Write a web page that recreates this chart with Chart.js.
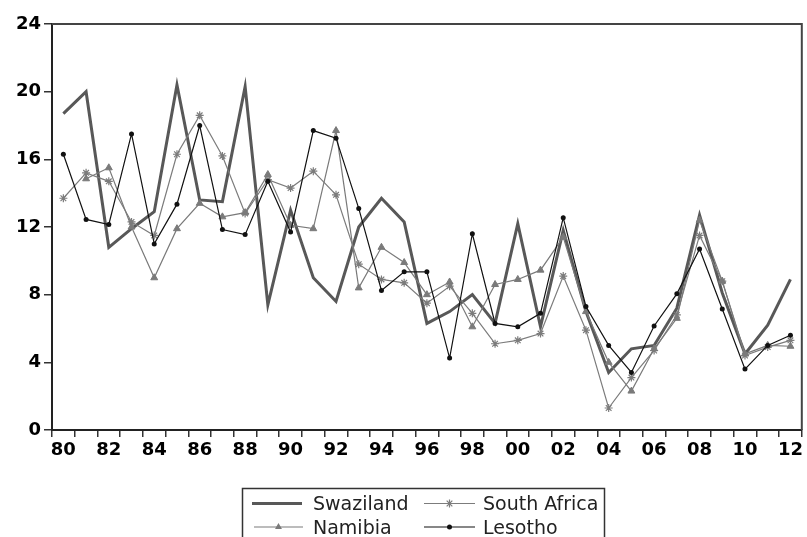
<!DOCTYPE html>
<html>
<head>
<meta charset="utf-8">
<script src="https://cdn.jsdelivr.net/npm/chart.js@4/dist/chart.umd.min.js"></script>
<style>
  html, body { margin: 0; padding: 0; background: #fff; }
  canvas { display: block; }
</style>
</head>
<body>
<canvas id="c" width="807" height="537"></canvas>
<script>
// ---- data ----
const years = ['1980','1981','1982','1983','1984','1985','1986','1987','1988','1989',
  '1990','1991','1992','1993','1994','1995','1996','1997','1998','1999',
  '2000','2001','2002','2003','2004','2005','2006','2007','2008','2009',
  '2010','2011','2012'];
const xTickLabels = ['80','','82','','84','','86','','88','','90','','92','','94','','96','','98','',
  '00','','02','','04','','06','','08','','10','','12'];
const yTicks = [0, 4, 8, 12, 16, 20, 24];

const swaziland = [18.7, 20.0, 10.8, 11.9, 12.9, 20.4, 13.6, 13.5, 20.3, 7.4,
  13.0, 9.0, 7.6, 12.0, 13.7, 12.3, 6.3, 7.0, 8.0, 6.3,
  12.2, 6.1, 11.8, 7.0, 3.4, 4.8, 5.0, 7.2, 12.7, 8.1,
  4.5, 6.2, 8.9];
const southAfrica = [13.7, 15.2, 14.7, 12.3, 11.5, 16.3, 18.6, 16.2, 12.8, 14.8,
  14.3, 15.3, 13.9, 9.8, 8.9, 8.7, 7.5, 8.5, 6.9, 5.1,
  5.3, 5.7, 9.1, 5.9, 1.3, 3.1, 4.7, 6.8, 11.5, 8.8,
  4.4, 4.9, 5.3];
const namibia = [null, 14.85, 15.5, 12.0, 9.0, 11.9, 13.4, 12.6, 12.85, 15.1,
  12.1, 11.9, 17.7, 8.4, 10.8, 9.9, 8.0, 8.75, 6.1, 8.6,
  8.9, 9.45, 11.4, 7.0, 4.0, 2.3, 4.8, 6.6, 12.4, 8.8,
  4.5, 5.0, 4.95];
const lesotho = [16.3, 12.45, 12.15, 17.5, 11.0, 13.35, 18.0, 11.85, 11.55, 14.7,
  11.7, 17.7, 17.25, 13.1, 8.25, 9.35, 9.35, 4.25, 11.6, 6.3,
  6.1, 6.9, 12.55, 7.3, 5.0, 3.4, 6.15, 8.05, 10.7, 7.15,
  3.6, 5.0, 5.6];
const seriesNames = ['Swaziland', 'South Africa', 'Namibia', 'Lesotho'];

// ---- styles ----
const C_SWA = '#585858', C_SA = '#7c7c7c', C_NAM = '#7a7a7a', C_LES = '#111111';
const tickFont = { family: 'DejaVu Sans', size: 18, weight: 'bold' };

function drawMarker(ctx, style, x, y, r, color) {
  ctx.save();
  ctx.strokeStyle = color; ctx.fillStyle = color; ctx.lineWidth = 1.2;
  ctx.beginPath();
  if (style === 'star') {
    ctx.moveTo(x - r, y); ctx.lineTo(x + r, y);
    ctx.moveTo(x, y - r); ctx.lineTo(x, y + r);
    const d = r * 0.707;
    ctx.moveTo(x - d, y - d); ctx.lineTo(x + d, y + d);
    ctx.moveTo(x - d, y + d); ctx.lineTo(x + d, y - d);
    ctx.stroke();
  } else if (style === 'triangle') {
    ctx.moveTo(x, y - r); ctx.lineTo(x + r * 0.87, y + r * 0.5); ctx.lineTo(x - r * 0.87, y + r * 0.5);
    ctx.closePath(); ctx.fill();
  } else if (style === 'circle') {
    ctx.arc(x, y, r, 0, Math.PI * 2); ctx.fill();
  }
  ctx.restore();
}

const framePlugin = {
  id: 'frameLegend',
  afterDraw(chart) {
    const ctx = chart.ctx, a = chart.chartArea;
    ctx.save();
    ctx.strokeStyle = '#444'; ctx.lineWidth = 2;
    ctx.beginPath();
    ctx.moveTo(a.left, a.top); ctx.lineTo(a.right, a.top); ctx.lineTo(a.right, a.bottom);
    ctx.stroke();

    // legend box
    ctx.strokeStyle = '#333'; ctx.lineWidth = 1.5;
    ctx.strokeRect(242.5, 488.5, 362, 60);
    ctx.font = '19px "DejaVu Sans"';
    ctx.fillStyle = '#222';
    ctx.textBaseline = 'alphabetic';
    const items = [
      { name: seriesNames[0], x1: 252, x2: 302, tx: 313, y: 503.5, color: C_SWA, w: 3, m: null },
      { name: seriesNames[1], x1: 424, x2: 475, tx: 483, y: 503.5, color: C_SA, w: 1.2, m: 'star' },
      { name: seriesNames[2], x1: 254, x2: 303, tx: 313, y: 527, color: C_NAM, w: 1.2, m: 'triangle' },
      { name: seriesNames[3], x1: 424, x2: 475, tx: 483, y: 527, color: C_LES, w: 1.2, m: 'circle' }
    ];
    items.forEach(it => {
      ctx.strokeStyle = it.color; ctx.lineWidth = it.w;
      ctx.beginPath(); ctx.moveTo(it.x1, it.y); ctx.lineTo(it.x2, it.y); ctx.stroke();
      if (it.m) drawMarker(ctx, it.m, (it.x1 + it.x2) / 2, it.y, it.m === 'circle' ? 2.5 : 4, it.color);
      ctx.fillStyle = '#222';
      ctx.fillText(it.name, it.tx, it.y + 6.7);
    });
    ctx.restore();
  }
};

new Chart(document.getElementById('c'), {
  type: 'line',
  data: {
    labels: years,
    datasets: [
      { label: seriesNames[0], data: swaziland, borderColor: C_SWA, borderWidth: 3,
        pointRadius: 0, tension: 0, order: 4 },
      { label: seriesNames[1], data: southAfrica, borderColor: C_SA, borderWidth: 1.2,
        pointStyle: 'star', pointRadius: 4, pointBorderColor: C_SA, pointBorderWidth: 1.2,
        pointBackgroundColor: C_SA, tension: 0, order: 3 },
      { label: seriesNames[2], data: namibia, borderColor: C_NAM, borderWidth: 1.2,
        pointStyle: 'triangle', pointRadius: 4, pointBorderColor: C_NAM, pointBorderWidth: 1,
        pointBackgroundColor: C_NAM, tension: 0, order: 2 },
      { label: seriesNames[3], data: lesotho, borderColor: C_LES, borderWidth: 1.2,
        pointStyle: 'circle', pointRadius: 2.5, pointBorderColor: C_LES, pointBorderWidth: 0,
        pointBackgroundColor: C_LES, tension: 0, order: 1 }
    ]
  },
  options: {
    responsive: false,
    animation: false,
    devicePixelRatio: 1,
    layout: { padding: { left: 0, right: 2, top: 24, bottom: 0 } },
    plugins: { legend: { display: false }, tooltip: { enabled: false } },
    scales: {
      x: {
        type: 'category',
        offset: true,
        grid: { offset: true, drawOnChartArea: false, drawTicks: true, tickLength: 7,
                color: '#333', lineWidth: 1.5 },
        border: { display: true, color: '#222', width: 2 },
        ticks: {
          autoSkip: false, maxRotation: 0, minRotation: 0, padding: 3,
          color: '#000', font: tickFont,
          callback: (v, i) => xTickLabels[i]
        },
        afterFit: s => { s.height = 107; }
      },
      y: {
        min: 0, max: 24,
        afterBuildTicks: s => { s.ticks = yTicks.map(v => ({ value: v })); },
        grid: { drawOnChartArea: false, drawTicks: true, tickLength: 8, color: '#333', lineWidth: 1.5 },
        border: { display: true, color: '#222', width: 2 },
        ticks: { color: '#000', font: tickFont, padding: 3 },
        afterFit: s => { s.width = 52; }
      }
    }
  },
  plugins: [framePlugin]
});
</script>
</body>
</html>
